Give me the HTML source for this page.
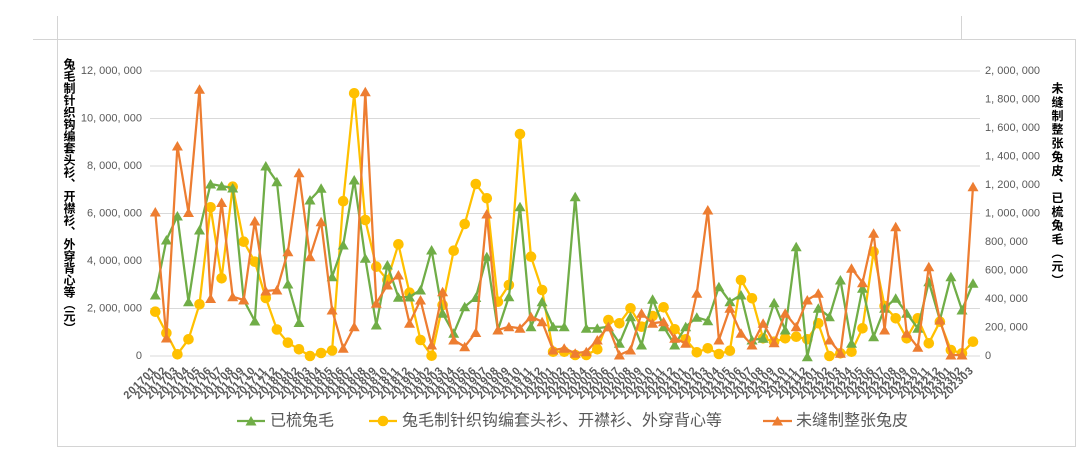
<!DOCTYPE html>
<html>
<head>
<meta charset="utf-8">
<style>
  html,body{margin:0;padding:0;background:#fff;}
  #wrap{position:relative;width:1076px;height:460px;overflow:hidden;background:#fff;}
  svg{position:absolute;left:0;top:0;}
  .vt{position:absolute;writing-mode:vertical-rl;text-orientation:upright;font-family:"Liberation Sans","Noto Sans CJK SC",sans-serif;font-weight:bold;color:#000;font-size:12px;line-height:12px;width:12px;white-space:nowrap;}
</style>
</head>
<body>
<div id="wrap">
<svg width="1076" height="460" viewBox="0 0 1076 460" xmlns="http://www.w3.org/2000/svg">
  <defs>
    <marker id="mg" viewBox="-7 -7 14 14" markerWidth="14" markerHeight="14" refX="0" refY="0" markerUnits="userSpaceOnUse" orient="0">
      <path d="M0,-5 L5.5,4.5 L-5.5,4.5 Z" fill="#70AD47"/>
    </marker>
    <marker id="mo" viewBox="-7 -7 14 14" markerWidth="14" markerHeight="14" refX="0" refY="0" markerUnits="userSpaceOnUse" orient="0">
      <path d="M0,-5 L5.5,4.5 L-5.5,4.5 Z" fill="#ED7D31"/>
    </marker>
    <marker id="my" viewBox="-7 -7 14 14" markerWidth="14" markerHeight="14" refX="0" refY="0" markerUnits="userSpaceOnUse" orient="0">
      <circle cx="0" cy="0" r="5.3" fill="#FFC000"/>
    </marker>
  </defs>

  <!-- frame lines -->
  <g stroke="#d4d4d4" stroke-width="1" shape-rendering="crispEdges" fill="none">
    <line x1="57.5" y1="16" x2="57.5" y2="447"/>
    <line x1="33" y1="39.5" x2="1076" y2="39.5"/>
    <line x1="961.5" y1="16" x2="961.5" y2="39"/>
    <line x1="1075.5" y1="39" x2="1075.5" y2="447"/>
    <line x1="57" y1="446.5" x2="1076" y2="446.5"/>
  </g>

  <!-- gridlines -->
  <g stroke="#d9d9d9" stroke-width="1" shape-rendering="crispEdges">
    <line x1="150" y1="71" x2="980" y2="71"/>
    <line x1="150" y1="118.5" x2="980" y2="118.5"/>
    <line x1="150" y1="166" x2="980" y2="166"/>
    <line x1="150" y1="213.5" x2="980" y2="213.5"/>
    <line x1="150" y1="261" x2="980" y2="261"/>
    <line x1="150" y1="308.5" x2="980" y2="308.5"/>
    <line x1="150" y1="356" x2="980" y2="356"/>
  </g>

  <!-- left tick labels -->
  <g font-family="Liberation Sans, sans-serif" font-size="11" fill="#595959" text-anchor="end" dominant-baseline="central">
    <text x="142" y="71">12, 000, 000</text>
    <text x="142" y="118.5">10, 000, 000</text>
    <text x="142" y="166">8, 000, 000</text>
    <text x="142" y="213.5">6, 000, 000</text>
    <text x="142" y="261">4, 000, 000</text>
    <text x="142" y="308.5">2, 000, 000</text>
    <text x="142" y="356">0</text>
  </g>

  <!-- right tick labels -->
  <g font-family="Liberation Sans, sans-serif" font-size="11" fill="#595959" text-anchor="start" dominant-baseline="central">
    <text x="985" y="71">2, 000, 000</text>
    <text x="985" y="99.5">1, 800, 000</text>
    <text x="985" y="128">1, 600, 000</text>
    <text x="985" y="156.5">1, 400, 000</text>
    <text x="985" y="185">1, 200, 000</text>
    <text x="985" y="213.5">1, 000, 000</text>
    <text x="985" y="242">800, 000</text>
    <text x="985" y="270.5">600, 000</text>
    <text x="985" y="299">400, 000</text>
    <text x="985" y="327.5">200, 000</text>
    <text x="985" y="356">0</text>
  </g>

  <!-- yellow series -->
  <polyline fill="none" stroke="#FFC000" stroke-width="2.25" stroke-linejoin="round" marker-start="url(#my)" marker-mid="url(#my)" marker-end="url(#my)"
    points="155.3,311.7 166.4,333 177.4,354.3 188.5,339.3 199.5,304.3 210.6,207.3 221.6,278.3 232.7,186.7 243.7,241.7 254.8,261.7 265.8,298 276.9,329.5 287.9,342.7 299,349.3 310,356 321.1,353 332.1,350.5 343.2,201.2 354.2,93.3 365.3,220 376.3,266.7 387.4,280 398.4,244.3 409.5,292.7 420.5,340 431.6,355.7 442.6,305 453.7,250.7 464.7,224 475.8,184 486.8,198.3 497.9,301.7 508.9,285 520,134 531,256.7 542.1,290 553.1,351.7 564.2,351.7 575.2,355 586.3,355 597.3,349.3 608.4,320 619.4,323.3 630.5,308.3 641.5,326.7 652.6,316 663.6,307.3 674.7,329.3 685.7,339.3 696.8,352.3 707.8,348.3 718.9,354 729.9,350.7 741,280 752,298.3 763.1,338.3 774.1,341.7 785.2,338.3 796.2,336.7 807.3,339.3 818.3,323.3 829.4,356 840.4,353.3 851.5,351.7 862.5,328.3 873.6,251.7 884.6,306 895.7,318.3 906.7,338.3 917.8,318.3 928.8,343.3 939.9,321.7 950.9,350 962,353.3 973,341.7"/>

  <!-- green series -->
  <polyline fill="none" stroke="#70AD47" stroke-width="2.25" stroke-linejoin="round" marker-start="url(#mg)" marker-mid="url(#mg)" marker-end="url(#mg)"
    points="155.3,295 166.4,240 177.4,216 188.5,301.7 199.5,230 210.6,184 221.6,186 232.7,188 243.7,300 254.8,321 265.8,166 276.9,181.7 287.9,284 299,322.5 310,200 321.1,188.3 332.1,276.7 343.2,245 354.2,180 365.3,258.3 376.3,325 387.4,265 398.4,297.3 409.5,297 420.5,290 431.6,250 442.6,313.3 453.7,333.3 464.7,306.7 475.8,297.5 486.8,256.7 497.9,330 508.9,296.7 520,206.7 531,326.7 542.1,301.7 553.1,326.7 564.2,326.7 575.2,196.7 586.3,328.3 597.3,328.3 608.4,326.7 619.4,343.3 630.5,316.7 641.5,345 652.6,299.3 663.6,326.7 674.7,345 685.7,326.7 696.8,317.3 707.8,320.7 718.9,286.7 729.9,301.7 741,295 752,340 763.1,338.3 774.1,302.7 785.2,330 796.2,246.7 807.3,356.7 818.3,308.3 829.4,316.7 840.4,280 851.5,343.3 862.5,288.3 873.6,336.7 884.6,308.3 895.7,298.3 906.7,313.3 917.8,328.3 928.8,281.7 939.9,320 950.9,276.7 962,310 973,283.3"/>

  <!-- orange series -->
  <polyline fill="none" stroke="#ED7D31" stroke-width="2.25" stroke-linejoin="round" marker-start="url(#mo)" marker-mid="url(#mo)" marker-end="url(#mo)"
    points="155.3,212 166.4,338 177.4,146 188.5,212.5 199.5,89.3 210.6,298.5 221.6,202.5 232.7,296.7 243.7,300 254.8,221 265.8,291 276.9,290 287.9,251.7 299,172.7 310,256.7 321.1,221.7 332.1,310 343.2,348.3 354.2,326.7 365.3,91.7 376.3,303.3 387.4,285 398.4,275 409.5,323.3 420.5,300 431.6,345 442.6,291.7 453.7,340 464.7,346.7 475.8,332.5 486.8,214 497.9,330 508.9,326.7 520,328.3 531,316.7 542.1,321.7 553.1,350 564.2,348.3 575.2,353.3 586.3,351.7 597.3,340 608.4,326.7 619.4,355 630.5,350 641.5,313.3 652.6,323.3 663.6,321.7 674.7,338.3 685.7,343.3 696.8,293.3 707.8,210 718.9,340 729.9,308.3 741,333.3 752,345 763.1,323.3 774.1,342.7 785.2,313.3 796.2,326.7 807.3,300 818.3,293.3 829.4,340 840.4,353.3 851.5,268.3 862.5,282.7 873.6,233.3 884.6,330 895.7,226.7 906.7,333.3 917.8,347.3 928.8,266.7 939.9,320 950.9,355 962,355 973,186.7"/>

  <!-- x-axis labels -->
  <g font-family="Liberation Sans, sans-serif" font-size="11" font-weight="bold" fill="#595959" text-anchor="end" dominant-baseline="central" letter-spacing="0.6">
    <text transform="translate(154.3,369) rotate(-45)">201701</text>
    <text transform="translate(165.4,369) rotate(-45)">201702</text>
    <text transform="translate(176.4,369) rotate(-45)">201703</text>
    <text transform="translate(187.5,369) rotate(-45)">201704</text>
    <text transform="translate(198.5,369) rotate(-45)">201705</text>
    <text transform="translate(209.6,369) rotate(-45)">201706</text>
    <text transform="translate(220.6,369) rotate(-45)">201707</text>
    <text transform="translate(231.7,369) rotate(-45)">201708</text>
    <text transform="translate(242.7,369) rotate(-45)">201709</text>
    <text transform="translate(253.8,369) rotate(-45)">201710</text>
    <text transform="translate(264.8,369) rotate(-45)">201711</text>
    <text transform="translate(275.9,369) rotate(-45)">201712</text>
    <text transform="translate(286.9,369) rotate(-45)">201801</text>
    <text transform="translate(298,369) rotate(-45)">201802</text>
    <text transform="translate(309,369) rotate(-45)">201803</text>
    <text transform="translate(320.1,369) rotate(-45)">201804</text>
    <text transform="translate(331.1,369) rotate(-45)">201805</text>
    <text transform="translate(342.2,369) rotate(-45)">201806</text>
    <text transform="translate(353.2,369) rotate(-45)">201807</text>
    <text transform="translate(364.3,369) rotate(-45)">201808</text>
    <text transform="translate(375.3,369) rotate(-45)">201809</text>
    <text transform="translate(386.4,369) rotate(-45)">201810</text>
    <text transform="translate(397.4,369) rotate(-45)">201811</text>
    <text transform="translate(408.5,369) rotate(-45)">201812</text>
    <text transform="translate(419.5,369) rotate(-45)">201901</text>
    <text transform="translate(430.6,369) rotate(-45)">201902</text>
    <text transform="translate(441.6,369) rotate(-45)">201903</text>
    <text transform="translate(452.7,369) rotate(-45)">201904</text>
    <text transform="translate(463.7,369) rotate(-45)">201905</text>
    <text transform="translate(474.8,369) rotate(-45)">201906</text>
    <text transform="translate(485.8,369) rotate(-45)">201907</text>
    <text transform="translate(496.9,369) rotate(-45)">201908</text>
    <text transform="translate(507.9,369) rotate(-45)">201909</text>
    <text transform="translate(519,369) rotate(-45)">201910</text>
    <text transform="translate(530,369) rotate(-45)">201911</text>
    <text transform="translate(541.1,369) rotate(-45)">201912</text>
    <text transform="translate(552.1,369) rotate(-45)">202001</text>
    <text transform="translate(563.2,369) rotate(-45)">202002</text>
    <text transform="translate(574.2,369) rotate(-45)">202003</text>
    <text transform="translate(585.3,369) rotate(-45)">202004</text>
    <text transform="translate(596.3,369) rotate(-45)">202005</text>
    <text transform="translate(607.4,369) rotate(-45)">202006</text>
    <text transform="translate(618.4,369) rotate(-45)">202007</text>
    <text transform="translate(629.5,369) rotate(-45)">202008</text>
    <text transform="translate(640.5,369) rotate(-45)">202009</text>
    <text transform="translate(651.6,369) rotate(-45)">202010</text>
    <text transform="translate(662.6,369) rotate(-45)">202011</text>
    <text transform="translate(673.7,369) rotate(-45)">202012</text>
    <text transform="translate(684.7,369) rotate(-45)">202101</text>
    <text transform="translate(695.8,369) rotate(-45)">202102</text>
    <text transform="translate(706.8,369) rotate(-45)">202103</text>
    <text transform="translate(717.9,369) rotate(-45)">202104</text>
    <text transform="translate(728.9,369) rotate(-45)">202105</text>
    <text transform="translate(740,369) rotate(-45)">202106</text>
    <text transform="translate(751,369) rotate(-45)">202107</text>
    <text transform="translate(762.1,369) rotate(-45)">202108</text>
    <text transform="translate(773.1,369) rotate(-45)">202109</text>
    <text transform="translate(784.2,369) rotate(-45)">202110</text>
    <text transform="translate(795.2,369) rotate(-45)">202111</text>
    <text transform="translate(806.3,369) rotate(-45)">202112</text>
    <text transform="translate(817.3,369) rotate(-45)">202201</text>
    <text transform="translate(828.4,369) rotate(-45)">202202</text>
    <text transform="translate(839.4,369) rotate(-45)">202203</text>
    <text transform="translate(850.5,369) rotate(-45)">202204</text>
    <text transform="translate(861.5,369) rotate(-45)">202205</text>
    <text transform="translate(872.6,369) rotate(-45)">202206</text>
    <text transform="translate(883.6,369) rotate(-45)">202207</text>
    <text transform="translate(894.7,369) rotate(-45)">202208</text>
    <text transform="translate(905.7,369) rotate(-45)">202209</text>
    <text transform="translate(916.8,369) rotate(-45)">202210</text>
    <text transform="translate(927.8,369) rotate(-45)">202211</text>
    <text transform="translate(938.9,369) rotate(-45)">202212</text>
    <text transform="translate(949.9,369) rotate(-45)">202301</text>
    <text transform="translate(961,369) rotate(-45)">202302</text>
    <text transform="translate(972,369) rotate(-45)">202303</text>
  </g>

  <!-- legend -->
  <g>
    <line x1="237" y1="421" x2="265" y2="421" stroke="#70AD47" stroke-width="2.25"/>
    <path d="M251,416 L256.5,425.5 L245.5,425.5 Z" fill="#70AD47"/>
    <line x1="369" y1="421" x2="397" y2="421" stroke="#FFC000" stroke-width="2.25"/>
    <circle cx="383" cy="421" r="5.3" fill="#FFC000"/>
    <line x1="763" y1="421" x2="792" y2="421" stroke="#ED7D31" stroke-width="2.25"/>
    <path d="M777.5,416 L783,425.5 L772,425.5 Z" fill="#ED7D31"/>
  </g>
  <g font-family="Liberation Sans, Noto Sans CJK SC, sans-serif" font-size="16" fill="#595959" dominant-baseline="central">
    <text x="270" y="421">已梳兔毛</text>
    <text x="402" y="421">兔毛制针织钩编套头衫、开襟衫、外穿背心等</text>
    <text x="796" y="421">未缝制整张兔皮</text>
  </g>
</svg>

<div class="vt" style="left:63px;top:58px;">兔毛制针织钩编套头衫、开襟衫、外穿背心等（元）</div>
<div class="vt" style="left:1051px;top:82px;letter-spacing:1.7px;">未缝制整张兔皮、已梳兔毛（元）</div>
</div>
</body>
</html>
